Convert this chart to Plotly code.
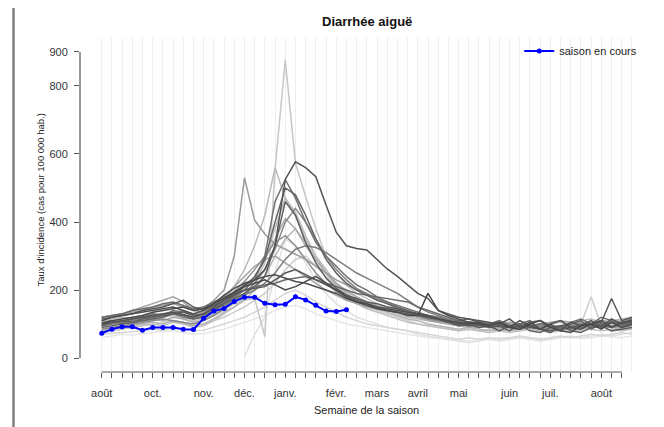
import plotly.graph_objects as go

# semaines de la saison (0 = debut aout)
weeks = list(range(53))
tick_weeks = list(range(52))
month_weeks = [0, 5, 10, 14, 18, 23, 27, 31, 35, 40, 44, 49]
month_labels = ["août", "oct.", "nov.", "déc.", "janv.", "févr.", "mars", "avril", "mai", "juin", "juil.", "août"]
y_ticks = [0, 200, 400, 600, 800, 900]

# saison en cours
current = [73, 85, 92, 92, 82, 90, 90, 90, 85, 84, 117, 138, 146, 166, 179, 179, 161, 157, 158, 180,
           171, 155, 138, 137, 142]

# saisons passees (taux pour 100 000 hab.)
s_u = [60, 65, 70, 68, 72, 75, 78, 80, 75, 70, 72, 78, 85,
       95, 105, 115, 125, 140, 150, 155, 145, 130, 120, 110, 100, 95,
       90, 85, 80, 75, 70, 65, 60, 58, 55, 52, 50, 55, 58,
       60, 58, 62, 60, 58, 55, 60, 62, 58, 60, 65, 62, 60, 65]
s_p = [None] * 14 + [5, 70, 120, 250, 350, 330, 280, 230, 190, 160, 140, 120,
       110, 100, 90, 85, 80, 70, 65, 60, 55, 50, 45, 50, 55,
       50, 55, 60, 55, 50, 55, 60, 65, 60, 65, 70, 65, 70, 75]
s_o = [70, 72, 75, 78, 80, 85, 82, 88, 85, 80, 82, 90, 100,
       110, 120, 135, 150, 170, 190, 200, 185, 165, 150, 135, 120, 110,
       100, 95, 90, 85, 80, 75, 70, 65, 60, 55, 60, 55, 60,
       55, 60, 65, 60, 55, 60, 65, 60, 65, 70, 65, 70, 75, 70]
s_q = [85, 90, 85, 95, 100, 95, 105, 110, 100, 95, 100, 110, 120,
       135, 150, 170, 190, 220, 260, 290, 300, 270, 240, 210, 185, 165,
       150, 140, 130, 120, 110, 100, 95, 90, 85, 80, 85, 80, 85,
       80, 85, 80, 85, 90, 85, 90, 95, 100, 180, 95, 90, 95, 90]
s_a = [95, 100, 105, 110, 108, 115, 120, 125, 118, 110, 115, 125, 140,
       160, 170, 175, 63, 555, 876, 573, 474, 380, 300, 250, 215, 190,
       175, 160, 150, 140, 130, 120, 115, 110, 100, 95, 100, 90, 95,
       90, 95, 85, 90, 95, 100, 90, 95, 100, 105, 95, 100, 110, 115]
s_n = [75, 80, 85, 90, 95, 100, 95, 105, 100, 90, 95, 110, 130,
       150, 180, 220, 280, 380, 470, 430, 360, 300, 250, 210, 180, 160,
       145, 135, 125, 115, 105, 100, 95, 90, 85, 80, 85, 80, 75,
       80, 75, 80, 85, 80, 75, 80, 85, 80, 85, 80, 85, 80, 85]
s_b = [110, 115, 120, 118, 125, 130, 128, 135, 140, 130, 135, 150, 170,
       210, 260, 330, 420, 560, 470, 420, 350, 300, 260, 220, 200, 180,
       165, 150, 140, 130, 120, 115, 110, 105, 100, 95, 100, 95, 90,
       95, 100, 95, 90, 95, 100, 105, 100, 110, 115, 105, 110, 115, 120]
s_i = [80, 85, 90, 95, 100, 105, 100, 110, 105, 95, 100, 115, 135,
       150, 170, 200, 240, 300, 350, 380, 340, 290, 250, 215, 190, 170,
       155, 145, 135, 125, 115, 110, 100, 95, 90, 85, 90, 85, 80,
       85, 80, 85, 90, 85, 80, 85, 90, 85, 90, 95, 90, 85, 90]
s_h = [95, 100, 105, 100, 110, 115, 110, 120, 115, 105, 110, 130, 150,
       175, 200, 235, 290, 350, 410, 380, 330, 290, 250, 220, 195, 180,
       165, 155, 145, 135, 125, 120, 110, 105, 100, 95, 90, 95, 90,
       85, 90, 95, 90, 85, 90, 95, 90, 100, 95, 90, 95, 100, 95]
s_t = [110, 120, 130, 140, 150, 160, 170, 180, 165, 140, 135, 155, 180,
       210, 240, 270, 290, 300, 280, 260, 240, 220, 200, 185, 170, 160,
       150, 145, 140, 135, 130, 125, 120, 110, 105, 100, 105, 100, 95,
       100, 105, 100, 95, 100, 105, 110, 105, 100, 105, 110, 105, 110, 115]
s_c = [120, 125, 130, 135, 140, 150, 155, 160, 150, 140, 145, 170, 200,
       300, 530, 405, 365, 335, 320, 305, 290, 270, 250, 230, 215, 200,
       185, 175, 165, 150, 140, 130, 125, 120, 115, 110, 105, 110, 100,
       105, 100, 95, 100, 95, 90, 95, 100, 105, 100, 110, 105, 100, 110]
s_s = [105, 100, 110, 115, 120, 125, 130, 135, 125, 120, 130, 150, 170,
       195, 225, 260, 300, 340, 360, 330, 290, 250, 220, 195, 180, 165,
       155, 150, 140, 135, 130, 125, 115, 110, 105, 100, 95, 90, 95,
       90, 95, 100, 95, 90, 85, 90, 95, 90, 95, 100, 95, 90, 95]
s_g = [85, 90, 95, 100, 105, 110, 115, 110, 105, 100, 110, 125, 145,
       165, 190, 220, 260, 320, 400, 440, 400, 350, 300, 260, 230, 205,
       190, 175, 160, 145, 135, 125, 115, 110, 105, 100, 95, 100, 90,
       95, 90, 85, 90, 95, 90, 85, 90, 95, 100, 95, 90, 95, 100]
s_m = [95, 100, 105, 110, 115, 120, 125, 130, 120, 115, 125, 140, 155,
       170, 185, 200, 220, 250, 290, 320, 330, 325, 310, 290, 270, 250,
       235, 220, 205, 190, 170, 150, 135, 125, 115, 110, 105, 100, 95,
       100, 95, 90, 95, 100, 95, 90, 95, 100, 95, 100, 105, 100, 105]
s_f = [105, 110, 100, 115, 120, 130, 125, 140, 135, 125, 130, 145, 165,
       180, 200, 230, 300, 460, 525, 470, 400, 340, 300, 270, 240, 215,
       200, 180, 165, 155, 145, 135, 125, 120, 110, 105, 100, 105, 100,
       100, 95, 90, 95, 100, 95, 90, 85, 90, 95, 100, 105, 95, 100]
s_l = [120, 125, 130, 140, 145, 150, 160, 165, 155, 145, 150, 165, 180,
       190, 200, 210, 215, 220, 230, 235, 240, 230, 220, 210, 200, 190,
       185, 180, 175, 170, 165, 150, 140, 130, 120, 110, 115, 105, 100,
       110, 95, 90, 105, 110, 95, 90, 105, 115, 100, 120, 110, 100, 115]
s_e = [90, 95, 100, 105, 110, 115, 120, 130, 125, 115, 120, 140, 160,
       185, 210, 240, 290, 400, 500, 480, 420, 350, 290, 250, 220, 200,
       185, 170, 160, 150, 140, 130, 120, 115, 110, 100, 105, 95, 100,
       95, 80, 100, 110, 85, 75, 95, 100, 110, 85, 100, 90, 105, 110]
s_v = [95, 105, 110, 105, 115, 120, 125, 130, 135, 125, 130, 145, 160,
       175, 190, 210, 240, 330, 460, 420, 340, 280, 235, 205, 185, 170,
       160, 150, 140, 135, 130, 125, 120, 115, 105, 95, 100, 90, 95,
       80, 95, 100, 80, 75, 90, 95, 80, 75, 90, 95, 80, 85, 90]
s_r = [115, 120, 125, 130, 140, 145, 150, 160, 170, 150, 140, 155, 170,
       185, 200, 205, 210, 230, 250, 260, 245, 230, 215, 200, 185, 175,
       165, 160, 150, 145, 135, 130, 120, 115, 105, 100, 95, 100, 90,
       95, 90, 95, 90, 85, 80, 85, 90, 95, 100, 105, 175, 110, 120]
s_d = [100, 105, 110, 115, 120, 125, 130, 135, 128, 120, 130, 150, 170,
       190, 215, 230, 260, 330, 525, 577, 560, 533, 450, 370, 330, 322,
       318, 290, 262, 240, 215, 190, 175, 140, 130, 120, 115, 110, 105,
       100, 115, 90, 105, 85, 100, 80, 105, 95, 110, 90, 115, 100, 105]
s_j = [110, 120, 125, 130, 135, 140, 145, 150, 140, 130, 140, 160, 185,
       205, 220, 230, 240, 245, 235, 225, 220, 210, 200, 190, 175, 165,
       160, 150, 145, 140, 135, 130, 125, 115, 110, 105, 100, 105, 95,
       105, 90, 110, 95, 85, 100, 110, 90, 85, 100, 110, 90, 105, 110]
s_k = [100, 110, 115, 120, 125, 135, 140, 145, 150, 140, 145, 160, 175,
       195, 210, 220, 230, 215, 200, 210, 225, 240, 220, 200, 180, 165,
       155, 145, 140, 135, 125, 125, 190, 140, 125, 115, 105, 100, 95,
       105, 90, 85, 100, 110, 90, 80, 75, 95, 100, 85, 105, 90, 100]

past_seasons = [s_u, s_p, s_o, s_q, s_a, s_n, s_b, s_i, s_h, s_t, s_c,
                s_s, s_g, s_m, s_f, s_l, s_e, s_v, s_r, s_d, s_j, s_k]
gray_shades = ["#e6e6e6", "#e0e0e0", "#d6d6d6", "#cccccc", "#c6c6c6", "#c0c0c0", "#bababa", "#b4b4b4",
               "#aaaaaa", "#a2a2a2", "#9a9a9a", "#909090", "#868686", "#7c7c7c", "#727272", "#6a6a6a",
               "#646464", "#5e5e5e", "#585858", "#545454", "#4e4e4e", "#484848"]

fig = go.Figure()

for vals, col in zip(past_seasons, gray_shades):
    fig.add_trace(go.Scatter(x=weeks, y=vals, mode="lines", line=dict(color=col, width=1.5),
                             showlegend=False, hoverinfo="skip"))

fig.add_trace(go.Scatter(x=weeks[:len(current)], y=current, mode="lines+markers", name="saison en cours",
                         line=dict(color="#0000ff", width=2), marker=dict(color="#0000ff", size=5)))

tick_text = []
for w in tick_weeks:
    if w in month_weeks:
        tick_text.append(month_labels[month_weeks.index(w)])
    else:
        tick_text.append("")

fig.update_xaxes(range=[-2.13, 52.4], tickvals=tick_weeks, ticktext=tick_text, ticks="outside", ticklen=5,
                 tickcolor="#555555", showline=False, zeroline=False, showgrid=True, gridcolor="#eeeeee",
                 gridwidth=1, ticklabelstandoff=6, tickfont=dict(size=11, color="#333333"),
                 minor=dict(tickvals=[52], showgrid=True, gridcolor="#eeeeee", ticks=""))
fig.update_yaxes(range=[-41, 941], tickvals=y_ticks, ticks="outside", ticklen=5, tickcolor="#555555",
                 showline=False, zeroline=False, showgrid=False, ticklabelstandoff=4,
                 tickfont=dict(size=11, color="#333333"))

# axes a la maniere de R
fig.add_shape(type="line", xref="paper", yref="y", x0=0, x1=0, y0=0, y1=900,
              line=dict(color="#555555", width=1.2))
fig.add_shape(type="line", xref="x", yref="paper", x0=0, x1=51, y0=0, y1=0,
              line=dict(color="#555555", width=1.2))
# bordure gauche de la page
fig.add_shape(type="line", xref="paper", yref="paper", x0=-0.1196, x1=-0.1196, y0=-0.2, y1=1.2,
              line=dict(color="#808080", width=2.5))

fig.add_annotation(text="<b>Diarrhée aiguë</b>", xref="paper", yref="paper", x=0.516, y=1.078,
                   showarrow=False, font=dict(size=13, color="#111111"))
fig.add_annotation(text="Semaine de la saison", xref="paper", yref="paper", x=0.516, y=-0.138,
                   showarrow=False, font=dict(size=11, color="#222222"))
fig.add_annotation(text="Taux d'incidence (cas pour 100 000 hab.)", xref="paper", yref="paper",
                   x=-0.0845, y=0.515, textangle=-90, showarrow=False, font=dict(size=9.5, color="#222222"))

# la page ajoute une marge de 8 px autour de la figure
fig.update_layout(
    width=656, height=419,
    margin=dict(l=72, r=28, t=30, b=55),
    paper_bgcolor="white", plot_bgcolor="white",
    font=dict(family="Liberation Sans, Arial, sans-serif"),
    legend=dict(x=0.79, y=0.961, xanchor="left", yanchor="middle", bgcolor="rgba(0,0,0,0)",
                font=dict(size=11, color="#222222"), itemwidth=30),
)

fig.write_html("out.html")
